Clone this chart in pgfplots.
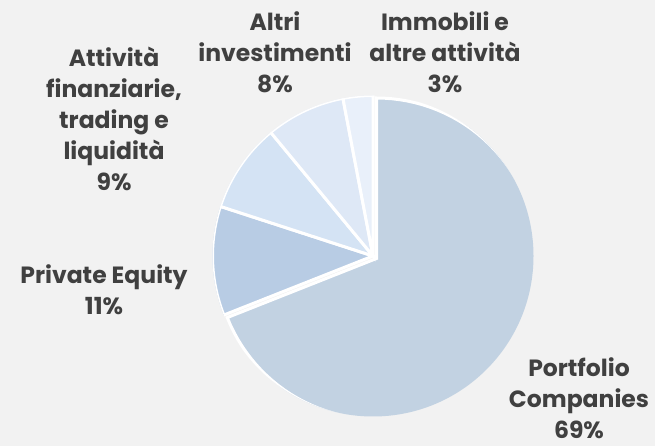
\documentclass[border=0pt]{standalone}
\usepackage{pgfplots}
\pgfplotsset{compat=1.18}
\usepgfplotslibrary{polar}
\usepackage{fontspec}
\setmainfont{Poppins}
\definecolor{bg}{HTML}{F2F2F2}
\definecolor{txt}{HTML}{404040}
\definecolor{cPC}{HTML}{C2D2E2}
\definecolor{cPE}{HTML}{B8CCE4}
\definecolor{cAF}{HTML}{D4E3F4}
\definecolor{cAI}{HTML}{DEE8F6}
\definecolor{cIM}{HTML}{E9F0FA}
\begin{document}
\begin{tikzpicture}
  \fill[bg] (0,0) rectangle (655pt,446pt);
  \begin{polaraxis}[
      hide axis,
      scale only axis,
      width=321pt, height=321pt,
      ymin=0, ymax=1,
      at={(373pt,190pt)}, anchor=center,
      every axis plot/.append style={draw=white, line width=3pt, samples=90},
    ]
    % shares in percent, clockwise from 12 o'clock: 69, 11, 9, 8, 3
    \addplot[fill=cPC, xshift=3.5pt, yshift=-2.5pt, domain={90-3.6*69}:{90}] {1} -- (axis cs:0,0) -- cycle;
    \addplot[fill=cPE, domain={90-3.6*(69+11)}:{90-3.6*69}] {1} -- (axis cs:0,0) -- cycle;
    \addplot[fill=cAF, domain={90-3.6*(80+9)}:{90-3.6*80}] {1} -- (axis cs:0,0) -- cycle;
    \addplot[fill=cAI, domain={90-3.6*(89+8)}:{90-3.6*89}] {1} -- (axis cs:0,0) -- cycle;
    \addplot[fill=cIM, domain={90-3.6*(97+3)}:{90-3.6*97}] {1} -- (axis cs:0,0) -- cycle;
  \end{polaraxis}
  \begin{scope}[every node/.style={align=center, text=txt, inner sep=0pt, font=\fontsize{23.5}{31}\selectfont\bfseries}]
    \node at (579pt,48pt) {Portfolio\\Companies\\69\%};
    \node at (104pt,156pt) {Private Equity\\11\%};
    \node at (114pt,327pt) {Attività\\finanziarie,\\trading e\\liquidità\\9\%};
    \node at (275pt,394pt) {Altri\\investimenti\\8\%};
    \node at (445pt,394pt) {Immobili e\\altre attività\\3\%};
  \end{scope}
\end{tikzpicture}
\end{document}
